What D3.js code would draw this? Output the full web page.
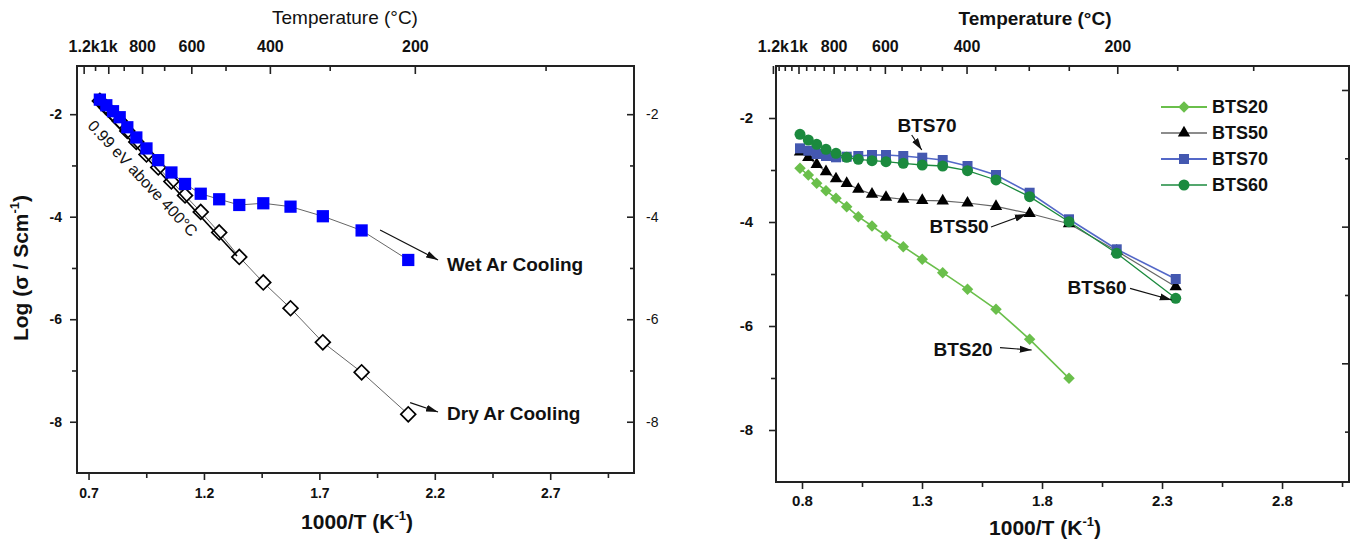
<!DOCTYPE html>
<html><head><meta charset="utf-8">
<script src="https://cdn.jsdelivr.net/npm/d3@7"></script>
<style>
body{margin:0;background:#fff}
svg{display:block}
text{font-family:"Liberation Sans",Arial,Helvetica,sans-serif;fill:#111}
</style>
</head><body>
<svg id="c" width="1350" height="545"></svg>
<script>
// ---------- LEFT PANEL DATA ----------
const leftX   = [0.749,0.777,0.806,0.835,0.868,0.907,0.951,1.002,1.059,1.118,1.186,1.266,1.353,1.457,1.575,1.715,1.883,2.085];
const wetY    = [-1.716,-1.826,-1.942,-2.059,-2.255,-2.454,-2.668,-2.897,-3.137,-3.361,-3.552,-3.660,-3.771,-3.738,-3.804,-3.991,-4.268,-4.844];
const dryY    = [-1.741,-1.868,-1.995,-2.132,-2.327,-2.541,-2.785,-3.039,-3.312,-3.585,-3.907,-4.307,-4.785,-5.283,-5.786,-6.450,-7.035,-7.855];
const fitX    = [0.728,1.343];
const fitY    = [-1.755,-4.766];
const leftXTicks = [0.7,1.2,1.7,2.2,2.7];
const leftXMinor = [0.95,1.45,1.95,2.45,2.95];
const leftYTicks = [-2,-4,-6,-8];
const leftYMinor = [-3,-5,-7];

// ---------- RIGHT PANEL DATA ----------
const rightX  = [0.7917,0.8263,0.8613,0.9000,0.9417,0.9863,1.0346,1.0917,1.1500,1.2220,1.3010,1.3863,1.4896,1.6083,1.7484,1.9125,2.1113,2.3571];
const bts20Y  = [-2.967,-3.096,-3.256,-3.398,-3.544,-3.706,-3.898,-4.077,-4.269,-4.475,-4.717,-4.975,-5.294,-5.679,-6.256,-7.006];
const bts50Y  = [-2.654,-2.756,-2.894,-3.033,-3.169,-3.256,-3.371,-3.465,-3.525,-3.562,-3.585,-3.594,-3.635,-3.700,-3.837,-4.033,-4.558,-5.244];
const bts70Y  = [-2.583,-2.629,-2.692,-2.731,-2.756,-2.744,-2.731,-2.712,-2.712,-2.731,-2.763,-2.808,-2.923,-3.096,-3.437,-3.948,-4.525,-5.096];
const bts60Y  = [-2.313,-2.423,-2.506,-2.602,-2.679,-2.756,-2.794,-2.821,-2.840,-2.871,-2.904,-2.923,-3.013,-3.192,-3.513,-3.994,-4.602,-5.467];
const seriesNames = ["BTS20","BTS50","BTS70","BTS60"];
const rightXTicks = [0.8,1.3,1.8,2.3,2.8];
const rightXMinor = [1.05,1.55,2.05,2.55,3.05];
const rightYTicks = [-2,-4,-6,-8];
const rightYMinor = [-3,-5,-7];
const rightRightMajor = [-2,-4,-6];
const rightRightMinor = [-3,-5,-7];

// ---------- TOP (TEMPERATURE) AXIS ----------
const tempMajor  = [1200,1000,800,600,400,200];
const tempLabels = ["1.2k","1k","800","600","400","200"];
const leftTempMinor  = [1100,900,700,500,300,100];
const rightTempMinor = [1150,1100,1050,950,900,850,750,700,650,550,500,450,350,300,250,150,100];
const invT = t => 1000/(t+273.15);

const svg = d3.select("#c");
const defs = svg.append("defs");
defs.append("marker").attr("id","arr").attr("viewBox","0 0 12 8")
  .attr("refX",12).attr("refY",4).attr("markerWidth",12).attr("markerHeight",8)
  .attr("markerUnits","userSpaceOnUse").attr("orient","auto")
  .append("path").attr("d","M0,0.5L12,4L0,7.5Z").attr("fill","#111");

function styleAxis(sel, fs){
  sel.select(".domain").remove();
  sel.selectAll(".tick line").attr("stroke","#222").attr("stroke-width",1.6);
  sel.selectAll(".tick text").attr("font-family","'Liberation Sans',Arial,sans-serif")
     .attr("font-weight","bold").attr("font-size",fs).attr("fill","#111");
}

function panel(o){
  const g = svg.append("g");
  const x = o.x, y = o.y;
  const [x0,x1] = x.range(), [y1,y0] = y.range();
  g.append("g").attr("transform",`translate(0,${y1})`)
    .call(d3.axisBottom(x).tickValues(o.xTicks).tickFormat(d3.format(".1f")).tickSizeInner(7).tickSizeOuter(0).tickPadding(o.xPad))
    .call(s=>styleAxis(s,o.fs));
  g.append("g").attr("transform",`translate(0,${y1})`)
    .call(d3.axisBottom(x).tickValues(o.xMinor).tickFormat("").tickSizeInner(5).tickSizeOuter(0))
    .call(s=>styleAxis(s,o.fs));
  g.append("g").attr("transform",`translate(${x0},0)`)
    .call(d3.axisLeft(y).tickValues(o.yTicks).tickFormat(d=>String(d)).tickSizeInner(7).tickSizeOuter(0).tickPadding(o.yPad))
    .call(s=>styleAxis(s,o.fs));
  g.append("g").attr("transform",`translate(${x0},0)`)
    .call(d3.axisLeft(y).tickValues(o.yMinor).tickFormat("").tickSizeInner(5).tickSizeOuter(0))
    .call(s=>styleAxis(s,o.fs));
  const yr = o.yRight || y;
  g.append("g").attr("transform",`translate(${x1},0)`)
    .call(d3.axisRight(yr).tickValues(o.rMajor).tickFormat(o.rLabels ? (d=>String(d)) : "").tickSizeInner(-7).tickSizeOuter(0).tickPadding(12))
    .call(s=>styleAxis(s,o.fs)).selectAll(".tick text").attr("font-weight","normal");
  g.append("g").attr("transform",`translate(${x1},0)`)
    .call(d3.axisRight(yr).tickValues(o.rMinor).tickFormat("").tickSizeInner(-4).tickSizeOuter(0))
    .call(s=>styleAxis(s,o.fs));
  g.append("g").attr("transform",`translate(0,${y0})`)
    .call(d3.axisTop(x).tickValues(tempMajor.map(invT)).tickFormat((d,i)=>tempLabels[i]).tickSizeInner(-8).tickSizeOuter(0).tickPadding(o.topPad))
    .call(s=>styleAxis(s,16));
  g.append("g").attr("transform",`translate(0,${y0})`)
    .call(d3.axisTop(x).tickValues(o.tempMinor.map(invT).filter(v=>v>=x.domain()[0]&&v<=x.domain()[1])).tickFormat("").tickSizeInner(-5).tickSizeOuter(0))
    .call(s=>styleAxis(s,16));
  g.append("rect").attr("x",x0).attr("y",y0).attr("width",x1-x0).attr("height",y1-y0)
    .attr("fill","none").attr("stroke","#222").attr("stroke-width",2);
  return g;
}

function titleK(g, cx, cy){
  const t = g.append("text").attr("x",cx).attr("y",cy).attr("text-anchor","middle")
    .attr("font-size",21).attr("font-weight","bold");
  t.append("tspan").text("1000/T (K");
  t.append("tspan").attr("font-size",13).attr("dy",-9).text("-1");
  t.append("tspan").attr("dy",9).text(")");
}

// ================= LEFT PANEL =================
const xL = d3.scaleLinear().domain([0.65,3.063]).range([77,634]);
const yL = d3.scaleLinear().domain([-9,-1.06]).range([473,66]);
const gL = panel({x:xL,y:yL,xTicks:leftXTicks,xMinor:leftXMinor,yTicks:leftYTicks,yMinor:leftYMinor,
  rMajor:leftYTicks,rMinor:leftYMinor,rLabels:true,tempMinor:leftTempMinor,fs:14,xPad:8,yPad:8,topPad:14});

gL.append("text").attr("x",345).attr("y",24).attr("text-anchor","middle").attr("font-size",19).text("Temperature (°C)");
titleK(gL,357,529);
{
  const t = gL.append("text").attr("transform","translate(28,268) rotate(-90)").attr("text-anchor","middle")
    .attr("font-size",21).attr("font-weight","bold");
  t.append("tspan").text("Log (σ / Scm");
  t.append("tspan").attr("font-size",13).attr("dy",-9).text("-1");
  t.append("tspan").attr("dy",9).text(")");
}

const lineGen = (xs,ys,xsc,ysc)=>d3.line().x((d,i)=>xsc(xs[i])).y(d=>ysc(d))(ys);

gL.append("path").attr("d",lineGen(leftX,dryY,xL,yL)).attr("fill","none").attr("stroke","#666").attr("stroke-width",1);
gL.selectAll(".dry").data(dryY).join("path")
  .attr("transform",(d,i)=>`translate(${xL(leftX[i])},${yL(d)}) rotate(45)`)
  .attr("d",d3.symbol(d3.symbolSquare,110)()).attr("fill","#fff").attr("stroke","#000").attr("stroke-width",1.7);
gL.append("path").attr("d",lineGen(fitX,fitY,xL,yL)).attr("fill","none").attr("stroke","#000").attr("stroke-width",1.6);
gL.append("path").attr("d",lineGen(leftX,wetY,xL,yL)).attr("fill","none").attr("stroke","#666").attr("stroke-width",1);
gL.selectAll(".wet").data(wetY).join("path")
  .attr("transform",(d,i)=>`translate(${xL(leftX[i])},${yL(d)})`)
  .attr("d",d3.symbol(d3.symbolSquare,150)()).attr("fill","#0000ff");

function arrow(g,xs,ys,p,q){
  g.append("line").attr("x1",xs(p[0])).attr("y1",ys(p[1])).attr("x2",xs(q[0])).attr("y2",ys(q[1]))
   .attr("stroke","#111").attr("stroke-width",1.2).attr("marker-end","url(#arr)");
}
arrow(gL,xL,yL,[1.963,-4.259],[2.214,-4.844]);
arrow(gL,xL,yL,[2.093,-7.628],[2.214,-7.81]);
gL.append("text").attr("x",xL(2.253)).attr("y",yL(-4.922)).attr("dy","0.35em").attr("font-size",19).attr("font-weight","bold").text("Wet Ar Cooling");
gL.append("text").attr("x",xL(2.253)).attr("y",yL(-7.835)).attr("dy","0.35em").attr("font-size",19).attr("font-weight","bold").text("Dry Ar Cooling");
gL.append("text").attr("transform",`translate(${xL(0.935)},${yL(-3.25)}) rotate(47)`).attr("text-anchor","middle")
  .attr("dy","0.35em").attr("font-size",16).text("0.99 eV above 400°C");

// ================= RIGHT PANEL =================
const xR = d3.scaleLinear().domain([0.6917,3.079]).range([776,1349]);
const yR = d3.scaleLinear().domain([-9,-1]).range([482,66]);
const yR2 = d3.scaleLinear().domain([-7.737,-1.649]).range([482,66]);
const gR = panel({x:xR,y:yR,yRight:yR2,xTicks:rightXTicks,xMinor:rightXMinor,yTicks:rightYTicks,yMinor:rightYMinor,
  rMajor:rightRightMajor,rMinor:rightRightMinor,rLabels:false,tempMinor:rightTempMinor,fs:15,xPad:6,yPad:16,topPad:14});

gR.append("text").attr("x",1035).attr("y",25).attr("text-anchor","middle").attr("font-size",19).attr("font-weight","bold").text("Temperature (°C)");
titleK(gR,1045,535);

const styles = [
  {y:bts20Y, color:"#6abf4b", line:"#6abf4b", lw:1.6, sym:"diamond"},
  {y:bts50Y, color:"#000000", line:"#666666", lw:1.2, sym:"triangle"},
  {y:bts70Y, color:"#4458b0", line:"#5468c8", lw:1.6, sym:"square"},
  {y:bts60Y, color:"#1b8a3e", line:"#1b8a3e", lw:1.3, sym:"circle"}
];
function symPath(s){
  if(s==="diamond") return d3.symbol(d3.symbolSquare,66)();
  if(s==="triangle") return d3.symbol(d3.symbolTriangle,66)();
  if(s==="square") return d3.symbol(d3.symbolSquare,100)();
  return d3.symbol(d3.symbolCircle,95)();
}
styles.forEach(st=>{
  gR.append("path").attr("d",lineGen(rightX,st.y,xR,yR)).attr("fill","none").attr("stroke",st.line).attr("stroke-width",st.lw);
  gR.selectAll(null).data(st.y).join("path")
    .attr("transform",(d,i)=>`translate(${xR(rightX[i])},${yR(d)})${st.sym==="diamond"?" rotate(45)":""}`)
    .attr("d",symPath(st.sym)).attr("fill",st.color);
});

const legY = [107,133,159,185];
seriesNames.forEach((n,i)=>{
  const st = styles[i];
  gR.append("line").attr("x1",1161).attr("x2",1207).attr("y1",legY[i]).attr("y2",legY[i]).attr("stroke",st.line).attr("stroke-width",st.lw+0.4);
  gR.append("path").attr("transform",`translate(1184,${legY[i]})${st.sym==="diamond"?" rotate(45)":""}`).attr("d",symPath(st.sym)).attr("fill",st.color);
  gR.append("text").attr("x",1212).attr("y",legY[i]).attr("dy","0.35em").attr("font-size",18).attr("font-weight","bold").text(n);
});

const annR = [
  {t:"BTS70", at:[1.3209,-2.135], a:[1.257,-2.327], b:[1.299,-2.615]},
  {t:"BTS50", at:[1.4542,-4.077], a:[1.5875,-4.096], b:[1.7363,-3.846]},
  {t:"BTS60", at:[2.0292,-5.25],  a:[2.1667,-5.275], b:[2.3404,-5.5]},
  {t:"BTS20", at:[1.4708,-6.442], a:[1.625,-6.417],  b:[1.757,-6.462]}
];
annR.forEach(a=>{
  arrow(gR,xR,yR,a.a,a.b);
  gR.append("text").attr("x",xR(a.at[0])).attr("y",yR(a.at[1])).attr("dy","0.35em").attr("text-anchor","middle")
    .attr("font-size",19).attr("font-weight","bold").text(a.t);
});
</script>
</body></html>
